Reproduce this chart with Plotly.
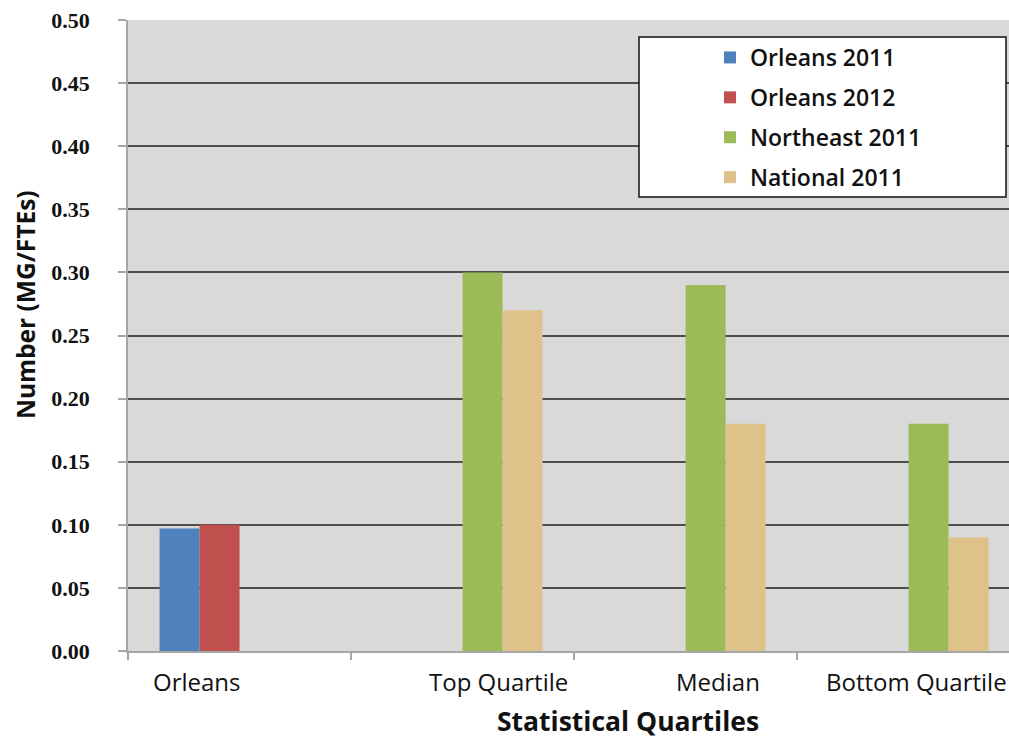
import plotly.graph_objects as go

# Categories along the x axis
categories = ["Orleans", "Top Quartile", "Median", "Bottom Quartile"]

# Series values (MG per FTE); None where a series has no bar in that group
orleans_2011 = [0.097, None, None, None]
orleans_2012 = [0.10, None, None, None]
northeast_2011 = [None, 0.30, 0.29, 0.18]
national_2011 = [None, 0.27, 0.18, 0.09]

series_names = ["Orleans 2011", "Orleans 2012", "Northeast 2011", "National 2011"]
series_values = [orleans_2011, orleans_2012, northeast_2011, national_2011]
series_colors = ["#4f81bd", "#c0504d", "#9bbb59", "#dfc28a"]

y_ticks = [0.0, 0.05, 0.10, 0.15, 0.20, 0.25, 0.30, 0.35, 0.40, 0.45, 0.50]

SANS = "'Open Sans', Lato, sans-serif"
SERIF = "'Liberation Serif', 'DejaVu Serif', serif"

# plot-area geometry in pixels (used to place the frame and annotations)
L, R, T, B = 128, 1009, 20, 651
PW, PH = R - L, B - T


def px_x(x):
    return (x - L) / PW


def px_y(y):
    return (B - y) / PH


fig = go.Figure()
for i, (name, vals, col) in enumerate(zip(series_names, series_values, series_colors)):
    fig.add_trace(go.Bar(
        x=categories, y=vals, name=name, marker_color=col,
        marker_line_width=0, legendgroup=f"g{i}",
    ))

# category labels placed under each group
label_shift = [-43, 36, 32, 8]
annotations = []
for cat, dx in zip(categories, label_shift):
    annotations.append(dict(
        x=cat, xref="x", y=px_y(681), yref="paper", yanchor="middle",
        text=cat, showarrow=False, xshift=dx,
        font=dict(family=SANS, size=24, color="#111111"),
    ))
annotations.append(dict(
    x=px_x(628), xref="paper", y=px_y(721), yref="paper",
    text="Statistical Quartiles", showarrow=False, yanchor="middle",
    font=dict(family=SANS, size=26.5, color="#111111", weight="bold"),
))
annotations.append(dict(
    x=px_x(25), xref="paper", y=px_y(305), yref="paper",
    text="Number (MG/FTEs)", textangle=-90, showarrow=False,
    xanchor="center", yanchor="middle",
    font=dict(family=SANS, size=24.5, color="#111111", weight="bold"),
))

fig.update_layout(
    width=1009, height=738,
    margin=dict(l=L, r=1009 - R, t=T, b=738 - B),
    paper_bgcolor="white",
    plot_bgcolor="#d9d9d9",
    barmode="group", bargap=0.283, bargroupgap=0,
    showlegend=True,
    legend=dict(
        x=px_x(710), xanchor="left",
        y=px_y(36), yanchor="top",
        bgcolor="rgba(0,0,0,0)", borderwidth=0,
        traceorder="grouped", tracegroupgap=7,
        font=dict(family=SANS, size=23, color="#111111", weight=600),
    ),
    annotations=annotations,
    shapes=[dict(
        type="rect", xref="paper", yref="paper",
        x0=px_x(639), x1=px_x(1006), y0=px_y(197), y1=px_y(37),
        fillcolor="white", line=dict(color="#111111", width=1.5), layer="above",
    )],
)

fig.update_xaxes(
    type="category", categoryorder="array", categoryarray=categories,
    range=[-0.5, 3.45], tickson="boundaries",
    ticks="outside", ticklen=7, tickcolor="#a6a6a6", tickwidth=1.5,
    showticklabels=False, showgrid=False,
    showline=True, linecolor="#a6a6a6", linewidth=1.5,
)
fig.update_yaxes(
    range=[0, 0.5], tickvals=y_ticks, tickformat=".2f",
    ticks="outside", ticklen=8, tickcolor="#a6a6a6", tickwidth=1.5,
    ticklabelstandoff=24,
    tickfont=dict(family=SERIF, size=22, color="#111111", weight="bold"),
    showgrid=True, gridcolor="#4d4d4d", gridwidth=1.5,
    zeroline=False,
    showline=True, linecolor="#a6a6a6", linewidth=1.5,
)

fig.write_html("out.html")
